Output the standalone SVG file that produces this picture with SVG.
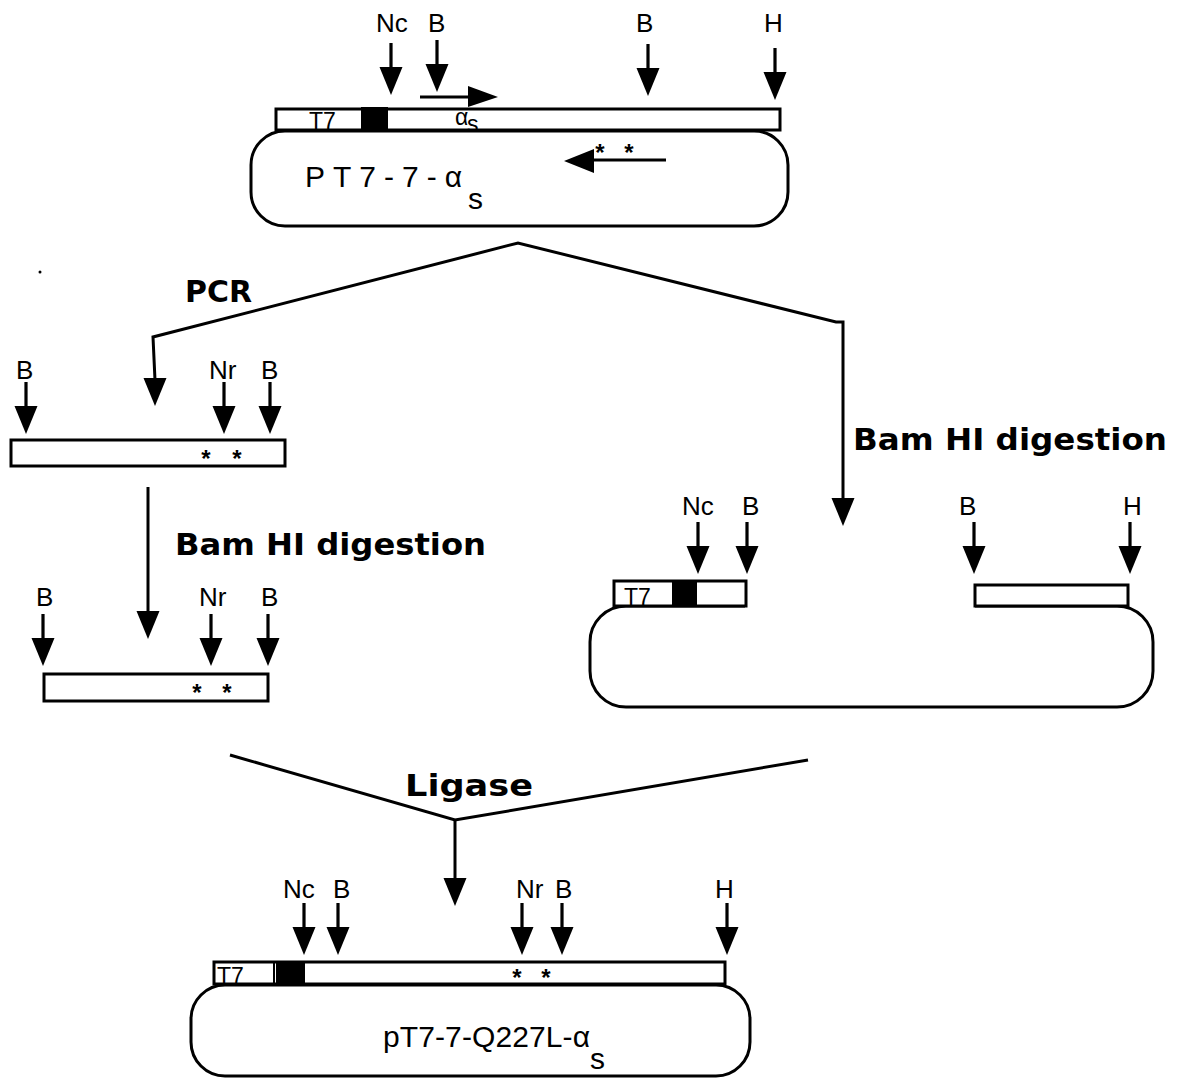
<svg xmlns="http://www.w3.org/2000/svg" xmlns:xlink="http://www.w3.org/1999/xlink" width="1183" height="1080" viewBox="0 0 1183 1080">
<style>
.lab{font-family:"Liberation Sans",Arial,sans-serif;font-size:26px;fill:#000}
.bold{font-family:"DejaVu Sans Condensed","DejaVu Sans","Liberation Sans",sans-serif;font-weight:bold;font-size:30px;fill:#000}
.big{font-family:"Liberation Sans",Arial,sans-serif;font-size:30px;fill:#000}
.small{font-family:"Liberation Sans",Arial,sans-serif;font-size:23px;fill:#000}
.star{font-family:"Liberation Sans",Arial,sans-serif;font-size:24px;font-weight:bold;fill:#000;text-anchor:middle}
.box{fill:#fff;stroke:#000;stroke-width:3}
.plasmid{fill:#fff;stroke:#000;stroke-width:3}
.line{fill:none;stroke:#000;stroke-width:3}
</style>
<defs>
<g id="dn">
<rect x="-1.6" y="-52" width="3.2" height="26"/>
<polygon points="-11.5,-28 11.5,-28 0,0"/>
</g>
<polygon id="head" points="-11.5,-28 11.5,-28 0,0"/>
</defs>
<rect width="1183" height="1080" fill="#fff"/>

<g id="plasmid-top">
<rect class="plasmid" x="251" y="131" width="537" height="95" rx="34"/>
<rect class="box" x="276" y="109" width="504" height="21"/>
<rect x="361" y="107" width="27" height="23" fill="#000"/>
<text class="small" x="309" y="129">T7</text>
<text class="small" x="455" y="125" font-size="21">α</text>
<text class="small" x="467" y="132" font-size="15">s</text>
<line x1="420" y1="97" x2="470" y2="97" stroke="#000" stroke-width="3"/>
<polygon points="468,86 498,97 468,107"/>
<line x1="590" y1="160" x2="666" y2="160" stroke="#000" stroke-width="3"/>
<polygon points="594,149 564,161 594,173"/>
<text class="star" x="600" y="161">*</text>
<text class="star" x="629" y="161">*</text>
<text class="big" x="305" y="187" textLength="157" lengthAdjust="spacing">PT7-7-α</text>
<text class="big" x="468" y="209" font-size="26">s</text>
<text class="lab" x="376" y="32">Nc</text>
<text class="lab" x="428" y="32">B</text>
<text class="lab" x="636" y="32">B</text>
<text class="lab" x="764" y="32">H</text>
<use xlink:href="#dn" x="391" y="95"/>
<use xlink:href="#dn" x="437" y="92"/>
<use xlink:href="#dn" x="648" y="96"/>
<use xlink:href="#dn" x="775" y="100"/>
</g>

<g id="pcr-product">
<rect class="box" x="11" y="440" width="274" height="26"/>
<text class="star" x="206" y="467">*</text>
<text class="star" x="237" y="467">*</text>
<text class="lab" x="16" y="379">B</text>
<text class="lab" x="209" y="379">Nr</text>
<text class="lab" x="261" y="379">B</text>
<use xlink:href="#dn" x="26" y="434"/>
<use xlink:href="#dn" x="224" y="434"/>
<use xlink:href="#dn" x="270" y="434"/>
<circle cx="40" cy="272" r="1.5"/>
</g>

<g id="digested-insert">
<rect class="box" x="44" y="674" width="224" height="27"/>
<text class="star" x="197" y="701">*</text>
<text class="star" x="227" y="701">*</text>
<text class="lab" x="36" y="606">B</text>
<text class="lab" x="199" y="606">Nr</text>
<text class="lab" x="261" y="606">B</text>
<use xlink:href="#dn" x="43" y="666"/>
<use xlink:href="#dn" x="211" y="666"/>
<use xlink:href="#dn" x="268" y="666"/>
</g>

<g id="digested-vector">
<path class="plasmid" d="M745,606 H626 A36,36 0 0 0 590,642 V671 A36,36 0 0 0 626,707 H1117 A36,36 0 0 0 1153,671 V642 A36,36 0 0 0 1117,606 H975"/>
<rect class="box" x="614" y="581" width="132" height="25"/>
<rect x="672" y="581" width="25" height="25" fill="#000"/>
<text class="small" x="624" y="605">T7</text>
<rect class="box" x="975" y="585" width="153" height="21"/>
<text class="lab" x="682" y="515">Nc</text>
<text class="lab" x="742" y="515">B</text>
<text class="lab" x="959" y="515">B</text>
<text class="lab" x="1123" y="515">H</text>
<use xlink:href="#dn" x="698" y="574"/>
<use xlink:href="#dn" x="747" y="574"/>
<use xlink:href="#dn" x="974" y="574"/>
<use xlink:href="#dn" x="1130" y="574"/>
</g>

<g id="plasmid-final">
<rect class="plasmid" x="191" y="985" width="559" height="91" rx="34"/>
<rect class="box" x="214" y="962" width="511" height="22"/>
<line x1="274" y1="962" x2="274" y2="984" stroke="#000" stroke-width="2"/>
<rect x="276" y="962" width="29" height="22" fill="#000"/>
<text class="small" x="217" y="984" font-size="25">T7</text>
<text class="star" x="517" y="986">*</text>
<text class="star" x="546" y="986">*</text>
<text class="big" x="383" y="1047" textLength="207" lengthAdjust="spacing">pT7-7-Q227L-α</text>
<text class="big" x="590" y="1069" font-size="26">s</text>
<text class="lab" x="283" y="898">Nc</text>
<text class="lab" x="333" y="898">B</text>
<text class="lab" x="516" y="898">Nr</text>
<text class="lab" x="555" y="898">B</text>
<text class="lab" x="715" y="898">H</text>
<use xlink:href="#dn" x="304" y="955"/>
<use xlink:href="#dn" x="338" y="955"/>
<use xlink:href="#dn" x="522" y="955"/>
<use xlink:href="#dn" x="562" y="955"/>
<use xlink:href="#dn" x="727" y="955"/>
</g>

<g id="labels">
<text class="bold" x="185" y="302" textLength="67" lengthAdjust="spacingAndGlyphs">PCR</text>
<text class="bold" x="853" y="450" textLength="314" lengthAdjust="spacingAndGlyphs">Bam HI digestion</text>
<text class="bold" x="175" y="555" textLength="311" lengthAdjust="spacingAndGlyphs">Bam HI digestion</text>
<text class="bold" x="405" y="796" textLength="128" lengthAdjust="spacingAndGlyphs">Ligase</text>
</g>

<g id="connectors">
<polyline class="line" points="155,380 153,337 518,243 836,322 843,322 843,500"/>
<use xlink:href="#head" x="155" y="406"/>
<use xlink:href="#head" x="843" y="526"/>
<line class="line" x1="148" y1="487" x2="148" y2="612"/>
<use xlink:href="#head" x="148" y="639"/>
<polyline class="line" points="230,755 455,820 808,760"/>
<line class="line" x1="455" y1="820" x2="455" y2="880"/>
<use xlink:href="#head" x="455" y="906"/>
</g>
</svg>
